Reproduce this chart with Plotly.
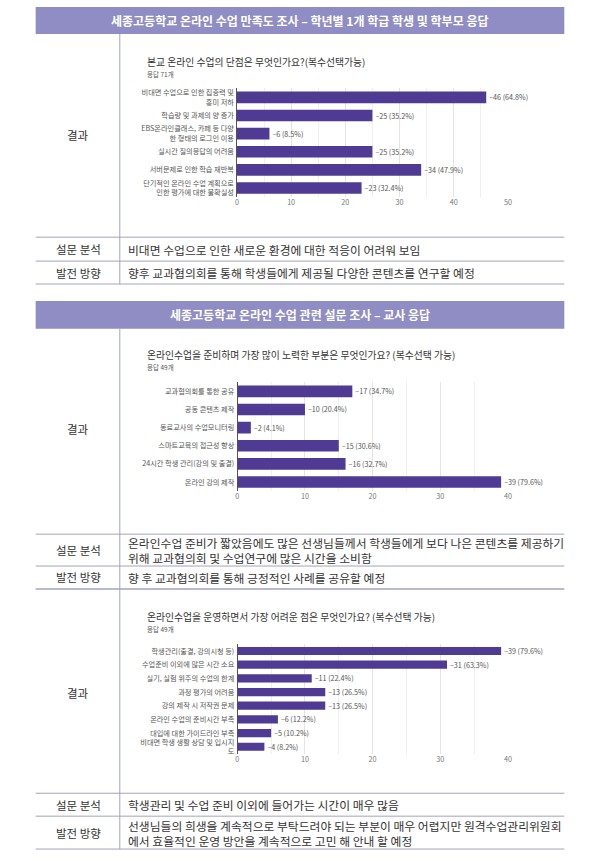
import plotly.graph_objects as go

W, H = 600, 865
FONT = "Noto Sans CJK KR"

# ---------------- data ----------------
header1 = "세종고등학교 온라인 수업 만족도 조사 – 학년별 1개 학급 학생 및 학부모 응답"
header2 = "세종고등학교 온라인 수업 관련 설문 조사 – 교사 응답"

q1_title = "본교 온라인 수업의 단점은 무엇인가요?(복수선택가능)"
q1_n = 71
q1_categories = [
    "비대면 수업으로 인한 집중력 및<br>흥미 저하",
    "학습량 및 과제의 양 증가",
    "EBS온라인클래스, 카페 등 다양<br>한 형태의 로그인 이용",
    "실시간 질의응답의 어려움",
    "서버문제로 인한 학습 재반복",
    "단기적인 온라인 수업 계획으로<br>인한 평가에 대한 불확실성",
]
q1_values = [46, 25, 6, 25, 34, 23]
q1_pct = [64.8, 35.2, 8.5, 35.2, 47.9, 32.4]

q2_title = "온라인수업을 준비하며 가장 많이 노력한 부분은 무엇인가요? (복수선택 가능)"
q2_n = 49
q2_categories = [
    "교과협의회를 통한 공유",
    "공동 콘텐츠 제작",
    "동료교사의 수업모니터링",
    "스마트교육의 접근성 향상",
    "24시간 학생 관리(강의 및 출결)",
    "온라인 강의 제작",
]
q2_values = [17, 10, 2, 15, 16, 39]
q2_pct = [34.7, 20.4, 4.1, 30.6, 32.7, 79.6]

q3_title = "온라인수업을 운영하면서 가장 어려운 점은 무엇인가요? (복수선택 가능)"
q3_n = 49
q3_categories = [
    "학생관리(출결, 강의시청 등)",
    "수업준비 이외에 많은 시간 소요",
    "실기, 실험 위주의 수업의 한계",
    "과정 평가의 어려움",
    "강의 제작 시 저작권 문제",
    "온라인 수업의 준비시간 부족",
    "대입에 대한 가이드라인 부족",
    "비대면 학생 생활 상담 및 입시지<br>도",
]
q3_values = [39, 31, 11, 13, 13, 6, 5, 4]
q3_pct = [79.6, 63.3, 22.4, 26.5, 26.5, 12.2, 10.2, 8.2]

row_label_result = "결과"
row_label_analysis = "설문 분석"
row_label_direction = "발전 방향"

s1_analysis = ["비대면 수업으로 인한 새로운 환경에 대한 적응이 어려워 보임"]
s1_direction = ["향후 교과협의회를 통해 학생들에게 제공될 다양한 콘텐츠를 연구할 예정"]
s2_analysis = ["온라인수업 준비가 짧았음에도 많은 선생님들께서 학생들에게 보다 나은 콘텐츠를 제공하기",
               "위해 교과협의회 및 수업연구에 많은 시간을 소비함"]
s2_direction = ["향 후 교과협의회를 통해 긍정적인 사례를 공유할 예정"]
s3_analysis = ["학생관리 및 수업 준비 이외에 들어가는 시간이 매우 많음"]
s3_direction = ["선생님들의 희생을 계속적으로 부탁드려야 되는 부분이 매우 어렵지만 원격수업관리위원회",
                "에서 효율적인 운영 방안을 계속적으로 고민 해 안내 할 예정"]

# ---------------- style ----------------
BAR = "#4f3b93"
HEAD = "#8f8dc4"
LINE = "#a3a3bf"
TXT = "#333333"


def px(x):
    return x / W


def py(y):
    return 1 - y / H


fig = go.Figure()

charts = [
    (q1_categories, q1_values, q1_pct, "", (237.3, 511), (87.6, 196.8), 50, 0.64),
    (q2_categories, q2_values, q2_pct, "2", (237.7, 511), (382.6, 491.8), 40, 0.64),
    (q3_categories, q3_values, q3_pct, "3", (237.7, 511), (645.4, 755.2), 40, 0.6),
]

for cats, vals, pcts, sfx, xd, yd, xmax, bw in charts:
    fig.add_trace(go.Bar(
        x=vals, y=cats, orientation="h",
        marker=dict(color=BAR, line=dict(width=0)),
        width=bw,
        text=[f"–{v} ({p}%)" for v, p in zip(vals, pcts)],
        textposition="outside",
        textfont=dict(family=FONT, size=7.2, color="#555555"),
        constraintext="none",
        cliponaxis=False,
        xaxis="x" + sfx, yaxis="y" + sfx,
        hoverinfo="skip",
        showlegend=False,
    ))
    fig.update_layout(**{
        "xaxis" + sfx: dict(
            domain=[px(xd[0]), px(xd[1])], range=[0, xmax], dtick=10,
            anchor="y" + sfx,
            showgrid=True, gridcolor="#e4e4e4", gridwidth=1,
            minor=dict(dtick=5, showgrid=True, gridcolor="#efefef"),
            zeroline=True, zerolinecolor="#555555", zerolinewidth=1,
            showline=False, ticks="",
            tickfont=dict(family=FONT, size=7.2, color="#777777"),
        ),
        "yaxis" + sfx: dict(
            domain=[py(yd[1]), py(yd[0])], type="category",
            autorange="reversed", anchor="x" + sfx,
            showgrid=False, zeroline=False, showline=False, ticks="",
            ticklabelstandoff=2,
            tickfont=dict(family=FONT, size=7.2, color="#555555"),
        ),
    })

shapes = []
annotations = []

# headers
for (y0, y1, text) in [(6, 33, header1), (301, 329, header2)]:
    shapes.append(dict(type="rect", xref="paper", yref="paper",
                       x0=px(34), x1=px(568), y0=py(y1), y1=py(y0),
                       fillcolor=HEAD, line=dict(width=0), layer="below"))
    annotations.append(dict(text=f"<b>{text}</b>", xref="paper", yref="paper",
                            x=0.5 * (px(34) + px(568)), y=py((y0 + y1) / 2),
                            xanchor="center", yanchor="middle", showarrow=False,
                            font=dict(family=FONT, size=12, color="white")))

# horizontal lines
for y, w in [(237, 1), (261, 1), (284, 1), (535, 1), (567, 1), (590, 1.6),
             (795, 1), (818, 1), (851, 1)]:
    shapes.append(dict(type="line", xref="paper", yref="paper",
                       x0=px(34), x1=px(568), y0=py(y), y1=py(y),
                       line=dict(color=LINE, width=w)))

# vertical dividers
for y0, y1 in [(33, 284), (329, 851)]:
    shapes.append(dict(type="line", xref="paper", yref="paper",
                       x0=px(119), x1=px(119), y0=py(y0), y1=py(y1),
                       line=dict(color=LINE, width=1)))


def label(text, y):
    annotations.append(dict(text=text, xref="paper", yref="paper",
                            x=px(77), y=py(y), xanchor="center", yanchor="middle",
                            showarrow=False, font=dict(family=FONT, size=11.5, color=TXT)))


def content(lines, y):
    annotations.append(dict(text="<br>".join(lines), xref="paper", yref="paper",
                            x=px(125), y=py(y), xanchor="left", yanchor="middle",
                            align="left", showarrow=False,
                            font=dict(family=FONT, size=11.8, color=TXT)))


label(row_label_result, 134)
label(row_label_analysis, 249)
label(row_label_direction, 272.5)
content(s1_analysis, 249)
content(s1_direction, 272.5)

label(row_label_result, 429)
label(row_label_analysis, 551)
label(row_label_direction, 578.5)
content(s2_analysis, 551)
content(s2_direction, 578.5)

label(row_label_result, 694)
label(row_label_analysis, 806.5)
label(row_label_direction, 834.5)
content(s3_analysis, 806.5)
content(s3_direction, 834.5)

# chart titles
for title, n, ty in [(q1_title, q1_n, 61), (q2_title, q2_n, 355.5), (q3_title, q3_n, 618.5)]:
    annotations.append(dict(text=title, xref="paper", yref="paper",
                            x=px(144), y=py(ty), xanchor="left", yanchor="middle",
                            showarrow=False, font=dict(family=FONT, size=9.8, color="#333333")))
    annotations.append(dict(text=f"응답 {n}개", xref="paper", yref="paper",
                            x=px(144), y=py(ty + 12), xanchor="left", yanchor="middle",
                            showarrow=False, font=dict(family=FONT, size=6.5, color="#555555")))

fig.update_layout(
    width=W, height=H,
    margin=dict(l=0, r=0, t=0, b=0),
    paper_bgcolor="white", plot_bgcolor="white",
    shapes=shapes, annotations=annotations,
    font=dict(family=FONT),
)

fig.write_html("out.html", config={"displayModeBar": False},
               post_script="document.body.style.margin='0';document.body.style.padding='0';")
